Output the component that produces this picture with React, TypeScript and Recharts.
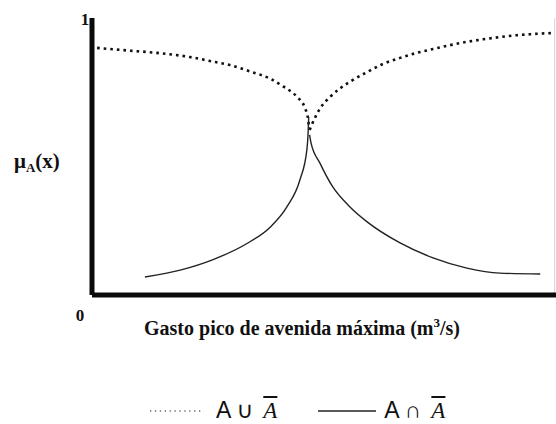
import { LineChart, Line, XAxis, YAxis, ReferenceLine } from 'recharts'

type Pt = { x: number; y: number }

const SERIF = "'Liberation Serif', 'Times New Roman', serif"
const SANS = "'Liberation Sans', 'DejaVu Sans', Arial, sans-serif"

// membership of A ∪ Ā: falls towards the crossing, then climbs back up
const unionLeft: Pt[] = [
  { x: 1.1, y: 0.892 }, { x: 6.7, y: 0.884 }, { x: 14.0, y: 0.874 }, { x: 21.1, y: 0.859 },
  { x: 25.4, y: 0.845 }, { x: 29.7, y: 0.830 }, { x: 34.1, y: 0.807 }, { x: 38.4, y: 0.781 },
  { x: 41.2, y: 0.753 }, { x: 44.2, y: 0.715 }, { x: 45.9, y: 0.675 }, { x: 46.6, y: 0.632 },
  { x: 46.8, y: 0.603 },
]
const unionRight: Pt[] = [
  { x: 46.9, y: 0.596 }, { x: 47.3, y: 0.612 }, { x: 49.1, y: 0.672 }, { x: 51.3, y: 0.715 },
  { x: 53.4, y: 0.745 }, { x: 55.6, y: 0.770 }, { x: 59.3, y: 0.805 }, { x: 62.7, y: 0.834 },
  { x: 66.4, y: 0.856 }, { x: 70.0, y: 0.874 }, { x: 73.5, y: 0.888 }, { x: 77.2, y: 0.902 },
  { x: 80.8, y: 0.914 }, { x: 84.3, y: 0.923 }, { x: 87.9, y: 0.931 }, { x: 91.6, y: 0.938 },
  { x: 95.0, y: 0.942 }, { x: 99.4, y: 0.946 },
]

// membership of A ∩ Ā: rises to the crossing, then decays
const interLeft: Pt[] = [
  { x: 11.4, y: 0.065 }, { x: 19.0, y: 0.090 }, { x: 26.1, y: 0.128 }, { x: 33.4, y: 0.186 },
  { x: 38.4, y: 0.245 }, { x: 42.0, y: 0.318 }, { x: 44.8, y: 0.415 }, { x: 46.3, y: 0.523 },
  { x: 46.6, y: 0.596 }, { x: 46.7, y: 0.643 },
]
const interRight: Pt[] = [
  { x: 46.9, y: 0.578 }, { x: 47.2, y: 0.549 }, { x: 49.1, y: 0.477 }, { x: 51.9, y: 0.390 },
  { x: 55.6, y: 0.318 }, { x: 59.3, y: 0.264 }, { x: 66.4, y: 0.188 }, { x: 73.5, y: 0.134 },
  { x: 80.8, y: 0.097 }, { x: 87.9, y: 0.079 }, { x: 96.6, y: 0.076 },
]

const yTicks = [0, 1]

const legendItems = [
  { label: 'A ∪', dotted: true },
  { label: 'A ∩', dotted: false },
]

const YTick = ({ x, y, payload }: any) => {
  if (payload.value === 1)
    return <text x={x - 7} y={y + 7} textAnchor="middle" fontFamily={SERIF} fontWeight="bold" fontSize={17} fill="#111">1</text>
  return <text x={x - 12} y={y + 26} textAnchor="middle" fontFamily={SERIF} fontWeight="bold" fontSize={17} fill="#111">0</text>
}

const XLabel = ({ viewBox }: any) => {
  const cx = viewBox.x + viewBox.width / 2 - 22
  return (
    <text x={cx} y={viewBox.y + 40} textAnchor="middle" fontFamily={SERIF} fontWeight="bold" fontSize={20} fill="#111">
      Gasto pico de avenida máxima (m<tspan dy={-8} fontSize={13}>3</tspan><tspan dy={8}>/s)</tspan>
    </text>
  )
}

const YLabel = ({ viewBox }: any) => (
  <text x={14} y={viewBox.y + viewBox.height / 2 + 11} fontFamily={SERIF} fontWeight="bold" fontSize={21} fill="#111">
    μ<tspan dy={4} fontSize={13}>A</tspan><tspan dy={-4}>(x)</tspan>
  </text>
)

const LegendRow = () => (
  <div style={{
    position: 'absolute', left: 150, top: 397, display: 'flex', alignItems: 'center',
    fontFamily: SANS, fontSize: 23, color: '#111', whiteSpace: 'nowrap',
  }}>
    {legendItems.map(it => (
      <div key={it.label} style={{ display: 'flex', alignItems: 'center', marginRight: it.dotted ? 41 : 0 }}>
        <svg width={it.dotted ? 54 : 58} height={10} style={{ marginRight: it.dotted ? 12 : 8 }}>
          <line x1={0} y1={5} x2={it.dotted ? 54 : 58} y2={5} stroke="#222"
            strokeWidth={it.dotted ? 1.2 : 1.3} strokeDasharray={it.dotted ? '1.3 3.6' : undefined} />
        </svg>
        <span>{it.label}</span>
        <span style={{ fontFamily: SERIF, fontStyle: 'italic', textDecoration: 'overline', marginLeft: 10 }}>A</span>
      </div>
    ))}
  </div>
)

export default function App() {
  return (
    <div style={{ position: 'absolute', left: 0, top: 0, width: 556, height: 424, background: '#fff' }}>
      <LineChart width={556} height={424} margin={{ top: 18, right: 0, bottom: 99, left: 62 }}>
        <XAxis dataKey="x" type="number" domain={[0, 100]} tick={false} tickLine={false}
          axisLine={{ stroke: '#0a0a0a', strokeWidth: 5 }} height={30} allowDuplicatedCategory={false}
          label={<XLabel />} />
        <YAxis type="number" domain={[0, 1]} ticks={yTicks} width={30} tickLine={false}
          tickSize={0} tickMargin={0} tick={<YTick />}
          axisLine={{ stroke: '#0a0a0a', strokeWidth: 5 }} label={<YLabel />} />
        <ReferenceLine x={99.7} stroke="#d6d6d6" strokeWidth={1} ifOverflow="visible" />
        <Line data={unionLeft} dataKey="y" type="monotone" dot={false} stroke="#111"
          strokeWidth={2.6} strokeDasharray="2.6 4" isAnimationActive={false} />
        <Line data={unionRight} dataKey="y" type="monotone" dot={false}
          stroke="#111" strokeWidth={2.6} strokeDasharray="2.6 4" isAnimationActive={false} />
        <Line data={interLeft} dataKey="y" type="monotone" dot={false} stroke="#222"
          strokeWidth={1.4} isAnimationActive={false} />
        <Line data={interRight} dataKey="y" type="monotone" dot={false}
          stroke="#222" strokeWidth={1.4} isAnimationActive={false} />
      </LineChart>
      <LegendRow />
    </div>
  )
}
